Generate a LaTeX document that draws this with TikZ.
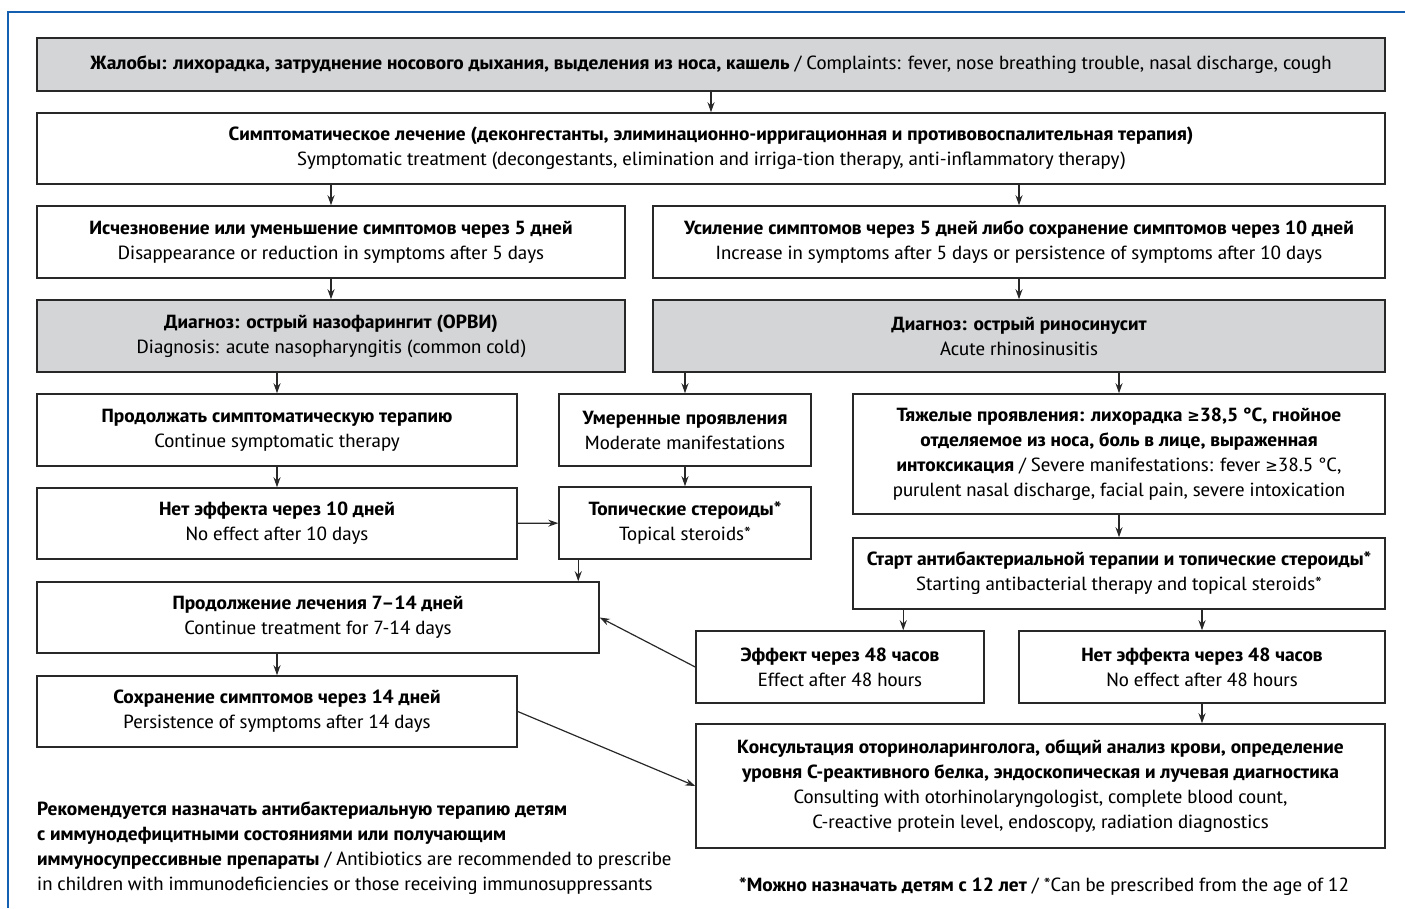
\documentclass[tikz,border=0pt]{standalone}
\usepackage{fontspec}
\setmainfont[FakeStretch=1.23]{PT Sans Narrow}
\newfontfamily\symfont{DejaVu Sans Condensed}
\usetikzlibrary{arrows.meta}

\definecolor{frameBlue}{RGB}{20,95,175}
\definecolor{boxGray}{RGB}{212,213,215}
\definecolor{lineDark}{RGB}{40,40,40}

\newcommand{\atleast}{{\symfont\fontsize{16.5}{25}\selectfont ≥}}

\begin{document}
\begin{tikzpicture}[x=1pt,y=-1pt,
    font=\fontsize{19}{25}\selectfont,
    box/.style={draw=lineDark, line width=1.5pt, fill=white, align=center, inner sep=2pt},
    graybox/.style={box, fill=boxGray},
    arr/.style={draw=lineDark, line width=1.2pt, -{Stealth[length=10pt,width=7pt]}}]

    % Page size and the open blue frame
    \useasboundingbox (0,0) rectangle (1405,908);
    \draw[frameBlue, line width=2pt] (8,908) -- (8,12) -- (1405,12);

    % First rows
    \node[graybox, minimum width=1348pt, minimum height=53pt] (complaints) at (711,64.5)
        {\textbf{Жалобы: лихорадка, затруднение носового дыхания, выделения из носа, кашель} / Complaints: fever, nose breathing trouble, nasal discharge, cough};
    \node[box, minimum width=1348pt, minimum height=71pt] (sympt) at (711,148.5)
        {\textbf{Симптоматическое лечение (деконгестанты, элиминационно-ирригационная и противовоспалительная терапия)}\\
         Symptomatic treatment (decongestants, elimination and irriga-tion therapy, anti-inflammatory therapy)};
    \node[box, minimum width=588pt, minimum height=72pt] (improve) at (331,242)
        {\textbf{Исчезновение или уменьшение симптомов через 5 дней}\\
         Disappearance or reduction in symptoms after 5 days};
    \node[box, minimum width=732pt, minimum height=72pt] (worsen) at (1019,242)
        {\textbf{Усиление симптомов через 5 дней либо сохранение симптомов через 10 дней}\\
         Increase in symptoms after 5 days or persistence of symptoms after 10 days};

    % Diagnoses
    \node[graybox, minimum width=588pt, minimum height=72pt] (coldDx) at (331,336)
        {\textbf{Диагноз: острый назофарингит (ОРВИ)}\\
         Diagnosis: acute nasopharyngitis (common cold)};
    \node[graybox, minimum width=732pt, minimum height=72pt] (sinusDx) at (1019,336)
        {\textbf{Диагноз: острый риносинусит}\\
         Acute rhinosinusitis};

    % Left branch
    \node[box, minimum width=480pt, minimum height=72pt] (contSym) at (277,430)
        {\textbf{Продолжать симптоматическую терапию}\\
         Continue symptomatic therapy};
    \node[box, minimum width=480pt, minimum height=71pt] (noEff10) at (277,523.5)
        {\textbf{Нет эффекта через 10 дней}\\
         No effect after 10 days};
    \node[box, minimum width=562pt, minimum height=71pt] (contTreat) at (318,617.5)
        {\textbf{Продолжение лечения 7–14 дней}\\
         Continue treatment for 7-14 days};
    \node[box, minimum width=480pt, minimum height=71pt] (persist) at (277,711.5)
        {\textbf{Сохранение симптомов через 14 дней}\\
         Persistence of symptoms after 14 days};

    % Middle branch
    \node[box, minimum width=252pt, minimum height=72pt] (moderate) at (685,430)
        {\textbf{Умеренные проявления}\\
         Moderate manifestations};
    \node[box, minimum width=252pt, minimum height=72pt] (topical) at (685,523)
        {\textbf{Топические стероиды*}\\
         Topical steroids*};

    % Right branch
    \node[box, minimum width=532pt, minimum height=120pt] (severe) at (1119,454)
        {\textbf{Тяжелые проявления: лихорадка \atleast38,5 °С, гнойное}\\
         \textbf{отделяемое из носа, боль в лице, выраженная}\\
         \textbf{интоксикация} / Severe manifestations: fever \atleast38.5 °C,\\
         purulent nasal discharge, facial pain, severe intoxication};
    \node[box, minimum width=532pt, minimum height=71pt] (antibact) at (1119,573.5)
        {\textbf{Старт антибактериальной терапии и топические стероиды*}\\
         Starting antibacterial therapy and topical steroids*};
    \node[box, minimum width=288pt, minimum height=72pt] (effect) at (840,667)
        {\textbf{Эффект через 48 часов}\\
         Effect after 48 hours};
    \node[box, minimum width=366pt, minimum height=72pt] (noEff48) at (1202,667)
        {\textbf{Нет эффекта через 48 часов}\\
         No effect after 48 hours};
    \node[box, minimum width=689pt, minimum height=124pt] (consult) at (1040.5,786)
        {\textbf{Консультация оториноларинголога, общий анализ крови, определение}\\
         \textbf{уровня С-реактивного белка, эндоскопическая и лучевая диагностика}\\
         Consulting with otorhinolaryngologist, complete blood count,\\
         C-reactive protein level, endoscopy, radiation diagnostics};

    % Notes under the chart
    \node[anchor=north west, align=left, inner sep=0pt] (noteLeft) at (37,801)
        {\textbf{Рекомендуется назначать антибактериальную терапию детям}\\
         \textbf{с иммунодефицитными состояниями или получающим}\\
         \textbf{иммуносупрессивные препараты} / Antibiotics are recommended to prescribe\\
         in children with immunodeficiencies or those receiving immunosuppressants};
    \node[anchor=base west, inner sep=0pt] (noteRight) at (739,891)
        {\textbf{*Можно назначать детям с 12 лет} / *Can be prescribed from the age of 12};

    % Arrows
    \draw[arr] (complaints) -- (sympt);
    \draw[arr] (sympt.south -| improve.north) -- (improve);
    \draw[arr] (sympt.south -| worsen.north) -- (worsen);
    \draw[arr] (improve) -- (coldDx);
    \draw[arr] (worsen) -- (sinusDx);
    \draw[arr] (coldDx.south -| contSym.north) -- (contSym);
    \draw[arr] (sinusDx.south -| moderate.north) -- (moderate);
    \draw[arr] (sinusDx.south -| severe.north) -- (severe);
    \draw[arr] (contSym) -- (noEff10);
    \draw[arr] (moderate) -- (topical);
    \draw[arr] (noEff10) -- (topical);
    \draw[arr] ([xshift=20pt]topical.south west) -- ([xshift=20pt]topical.south west |- contTreat.north);
    \draw[arr] (contTreat.south -| persist.north) -- (persist);
    \draw[arr] (severe) -- (antibact);
    \draw[arr] ([xshift=51pt]antibact.south west) -- ([xshift=51pt]antibact.south west |- effect.north);
    \draw[arr] (antibact.south -| noEff48.north) -- (noEff48);
    \draw[arr] (effect.west) -- (contTreat.east);
    \draw[arr] (noEff48) -- (consult.north -| noEff48.south);
    \draw[arr] (persist.east) -- (consult.west);

\end{tikzpicture}
\end{document}
